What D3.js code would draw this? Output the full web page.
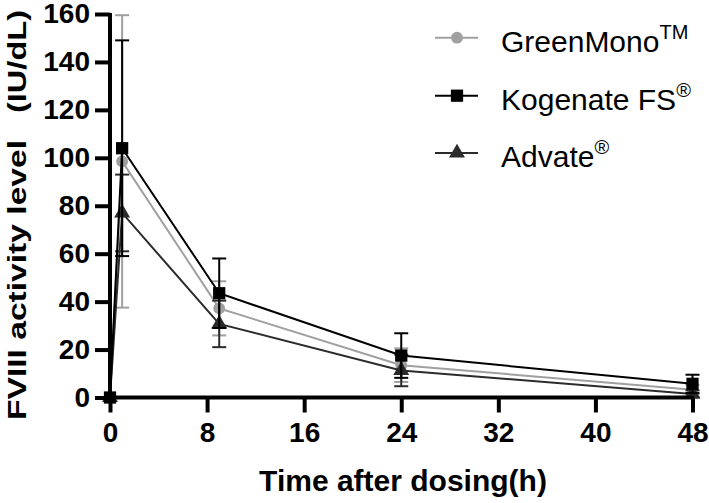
<!DOCTYPE html>
<html>
<head>
<meta charset="utf-8">
<script src="https://cdn.jsdelivr.net/npm/d3@7"></script>
<style>
  html, body { margin: 0; padding: 0; background: #fff; }
  svg { display: block; font-family: "Liberation Sans", Arial, sans-serif; }
</style>
</head>
<body>
<svg id="chart" width="709" height="503"></svg>
<script>
// ---- data ----
const times = [0, 1, 9, 24, 48];
const seriesNames = ["GreenMono", "Kogenate FS", "Advate"];
const seriesSup = ["TM", "®", "®"];
const greenMonoMean = [0, 98.5, 37.2, 13.5, 3.2];
const greenMonoSD   = [0, 61, 11.3, 7, 2];
const kogenateMean  = [0, 104, 43.5, 17.5, 5.7];
const kogenateSD    = [0, 45, 14.5, 9.3, 3.8];
const advateMean    = [0, 77, 30.7, 11.3, 1.5];
const advateSD      = [0, 16, 9.7, 6.6, 1.5];
const xTicks = [0, 8, 16, 24, 32, 40, 48];
const yTicks = [0, 20, 40, 60, 80, 100, 120, 140, 160];
const xTitle = "Time after dosing(h)";
const yTitleMain = "FVIII activity level";
const yTitleUnit = "(IU/dL)";

const series = [
  { name: seriesNames[0], sup: seriesSup[0], mean: greenMonoMean, sd: greenMonoSD, color: "#a0a0a0", marker: "circle" },
  { name: seriesNames[2], sup: seriesSup[2], mean: advateMean, sd: advateSD, color: "#2b2b2b", marker: "triangle" },
  { name: seriesNames[1], sup: seriesSup[1], mean: kogenateMean, sd: kogenateSD, color: "#000000", marker: "square" }
];
const legendOrder = [series[0], series[2], series[1]];

// ---- layout ----
const svg = d3.select("#chart");
const x = d3.scaleLinear().domain([0, 48]).range([110, 692.5]);
const y = d3.scaleLinear().domain([0, 160]).range([397.5, 14]);

const symbolFor = m => m === "circle" ? d3.symbol(d3.symbolCircle, 110)
                    : m === "square" ? d3.symbol(d3.symbolSquare, 150)
                    : d3.symbol(d3.symbolTriangle, 110);

// series lines, error bars, markers
const line = d3.line().x((d, i) => x(times[i])).y(d => y(d));
series.forEach(s => {
  const g = svg.append("g");
  g.append("path").attr("d", line(s.mean)).attr("fill", "none")
    .attr("stroke", s.color).attr("stroke-width", 2);
  times.forEach((t, i) => {
    if (s.sd[i] > 0) {
      const hi = y(s.mean[i] + s.sd[i]), lo = y(s.mean[i] - s.sd[i]);
      g.append("line").attr("x1", x(t)).attr("x2", x(t)).attr("y1", hi).attr("y2", lo)
        .attr("stroke", s.color).attr("stroke-width", 2);
      [hi, lo].forEach(yy => g.append("line").attr("x1", x(t) - 7).attr("x2", x(t) + 7)
        .attr("y1", yy).attr("y2", yy).attr("stroke", s.color).attr("stroke-width", 2));
    }
  });
  g.selectAll("path.m").data(s.mean).join("path").attr("class", "m")
    .attr("d", symbolFor(s.marker))
    .attr("transform", (d, i) => `translate(${x(times[i])},${y(d)})`)
    .attr("fill", s.color);
});

// axes
const yAxis = d3.axisLeft(y).tickValues(yTicks).tickSize(15).tickPadding(5).tickSizeOuter(0);
const xAxis = d3.axisBottom(x).tickValues(xTicks).tickSize(15).tickPadding(10).tickSizeOuter(0);
const gy = svg.append("g").attr("transform", "translate(110,0)").call(yAxis);
const gx = svg.append("g").attr("transform", "translate(0,397.5)").call(xAxis);
[gx, gy].forEach(g => {
  g.select(".domain").attr("stroke", "#000").attr("stroke-width", 4);
  g.selectAll(".tick line").attr("stroke", "#000").attr("stroke-width", 4);
  g.selectAll(".tick text").attr("fill", "#000").style("font-size", "28px")
    .style("font-weight", "bold").style("font-family", "Liberation Sans, Arial, sans-serif");
});
gy.select(".domain").attr("d", `M0,${y(0) + 2}V${y(160) - 1}`);
gx.select(".domain").attr("d", `M${x(0) - 2},0H${x(48) + 1}`);

// axis titles
svg.append("text").attr("x", 403).attr("y", 491).attr("text-anchor", "middle")
  .style("font-size", "30px").style("font-weight", "bold").text(xTitle);
svg.append("text").attr("transform", "translate(26,420) rotate(-90)")
  .attr("textLength", 280).attr("lengthAdjust", "spacingAndGlyphs")
  .style("font-size", "25px").style("font-weight", "bold").text(yTitleMain);
svg.append("text").attr("transform", "translate(26,113) rotate(-90)")
  .attr("textLength", 103).attr("lengthAdjust", "spacingAndGlyphs")
  .style("font-size", "25px").style("font-weight", "bold").text(yTitleUnit);

// legend
const legY = [37.7, 95.7, 153];
legendOrder.forEach((s, i) => {
  const g = svg.append("g").attr("transform", `translate(0,${legY[i]})`);
  g.append("line").attr("x1", 435).attr("x2", 478).attr("stroke", s.color).attr("stroke-width", 2);
  g.append("path").attr("d", symbolFor(s.marker)).attr("transform", "translate(457,0)").attr("fill", s.color);
  const t = g.append("text").attr("x", 501).attr("y", 14).style("font-size", "30px").attr("fill", "#000");
  t.append("tspan").text(s.name);
  t.append("tspan").attr("dy", -13).style("font-size", "20px").text(s.sup);
});
</script>
</body>
</html>
